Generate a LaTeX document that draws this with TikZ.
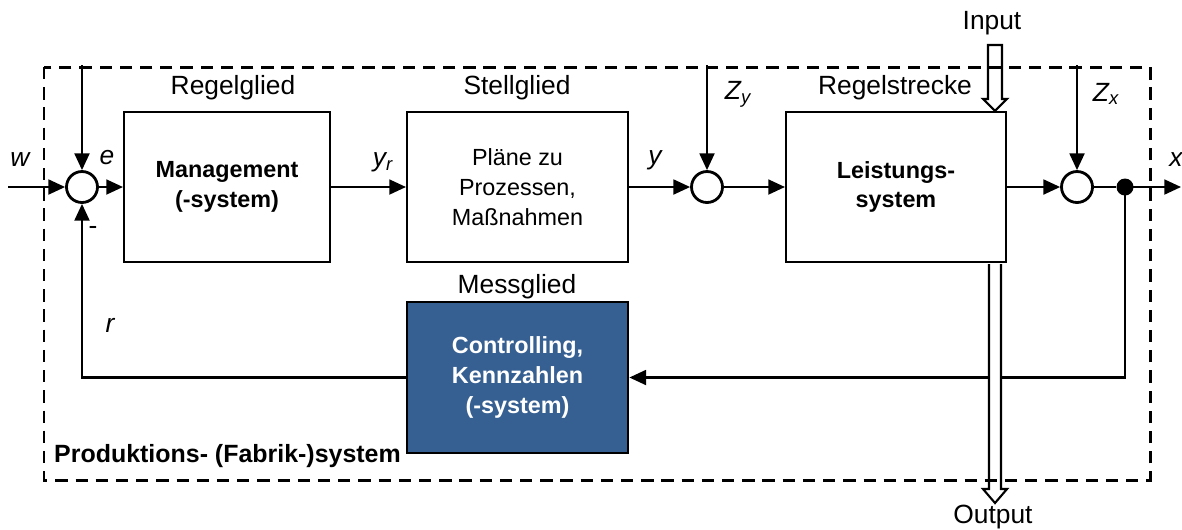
\documentclass[tikz,border=0pt]{standalone}
\usepackage{fontspec}
\setmainfont{Liberation Sans}
\usetikzlibrary{arrows.meta,calc}
\definecolor{CtrlBlue}{HTML}{376092}
\newcommand\boxfont{\fontsize{13.3}{17}\selectfont}
\newcommand\lblfont{\fontsize{15}{18}\selectfont}

\begin{document}
\begin{tikzpicture}[x=0.02cm, y=-0.02cm,
  block/.style={draw, line width=1.2pt, minimum height=3cm, align=center, font=\boxfont},
  sumpt/.style={circle, draw, line width=1.6pt, minimum size=0.62cm, inner sep=0pt, fill=white},
  joint/.style={circle, fill, minimum size=0.34cm, inner sep=0pt},
  lbl/.style={font=\lblfont},
  var/.style={font=\lblfont\itshape},
  sig/.style={line width=1.2pt, -{Triangle[length=9.5pt, width=8.5pt]}},
  hollow/.style={draw, line width=1.2pt, fill=white, line join=miter}]
  \useasboundingbox (0,0) rectangle (1182,529);
  % Blocks
  \node[block, minimum width=4.12cm, font=\boxfont\bfseries] (mgmt) at (227,187) {Management\\(-system)};
  \node[block, minimum width=4.42cm] (stell) at (517.5,187) {Pläne zu\\Prozessen,\\Maßnahmen};
  \node[block, minimum width=4.4cm, font=\boxfont\bfseries] (leist) at (896,187) {Leistungs-\\system};
  \node[block, minimum width=4.42cm, minimum height=3.02cm, fill=CtrlBlue, text=white,
        line width=1.6pt, font=\boxfont\bfseries] (ctrl) at (517.5,377.5) {Controlling,\\Kennzahlen\\(-system)};
  % Summing points
  \node[sumpt] (s1) at (82,187) {};
  \node[sumpt] (s2) at (707,187) {};
  \node[sumpt] (s3) at (1077,187) {};
  \node[joint] (br) at (1125,187) {};
  % Free ends
  \coordinate (win) at (8,187);
  \coordinate (xout) at (1181,187);
  \coordinate (t1) at (82,65);
  \coordinate (zy) at (707,65);
  \coordinate (zx) at (1077,65);
  % Signals
  \draw[sig] (win) -- (s1);
  \draw[sig] (t1) -- (s1);
  \draw[sig] (s1) -- (mgmt);
  \draw[sig] (mgmt) -- (stell);
  \draw[sig] (stell) -- (s2);
  \draw[sig] (zy) -- (s2);
  \draw[sig] (s2) -- (leist);
  \draw[sig] (leist) -- (s3);
  \draw[sig] (zx) -- (s3);
  \draw[line width=1.2pt] (s3) -- (br);
  \draw[sig] (br.center) -- (xout);
  % Feedback
  \draw[sig] (br.center) |- (ctrl.east);
  \draw[sig] (ctrl.west) -| (s1.south);
  % Input / Output
  \coordinate (inp) at (995,45);
  \coordinate (inend) at (leist.north -| inp);
  \draw[hollow] ($(inp)+(-7,0)$) -- ($(inend)+(-7,-12)$) -- ($(inend)+(-12,-12)$) -- (inend)
    -- ($(inend)+(12,-12)$) -- ($(inend)+(7,-12)$) -- ($(inp)+(7,0)$) -- cycle;
  \coordinate (outst) at ($(leist.south -| inp)+(0,1)$);
  \coordinate (outp) at (995,503);
  \draw[hollow] ($(outst)+(-6,0)$) -- ($(outp)+(-6,-14)$) -- ($(outp)+(-12,-14)$) -- (outp)
    -- ($(outp)+(12,-14)$) -- ($(outp)+(6,-14)$) -- ($(outst)+(6,0)$);
  % System boundary
  \draw[line width=1.7pt, dash pattern=on 7pt off 4.5pt] (44,67) rectangle (1150,480);
  % Labels
  \node[lbl] (lrg) at (233,88) {Regelglied};
  \node[lbl] (lsg) at (517,88) {Stellglied};
  \node[lbl] (lrs) at (895,88) {Regelstrecke};
  \node[lbl] (lmg) at (517,287) {Messglied};
  \node[lbl] (lin) at (992,23) {Input};
  \node[lbl] (lout) at (993,517) {Output};
  \node[var] (lw) at (20,160) {w};
  \node[var] (le) at (107,158) {e};
  \node[lbl] (lneg) at (93,230) {-};
  \node[var] (lr) at (110,325) {r};
  \node[var] (lyr) at (383,162) {y\textsubscript{r}};
  \node[var] (ly) at (655,160) {y};
  \node[var] (lzy) at (738,94) {Z\textsubscript{y}};
  \node[var] (lzx) at (1106,94) {Z\textsubscript{x}};
  \node[var] (lx) at (1176,160) {x};
  \node[anchor=west, font=\fontsize{14.2}{17}\selectfont\bfseries] (lsys) at (48,456) {Produktions- (Fabrik-)system};
\end{tikzpicture}
\end{document}
